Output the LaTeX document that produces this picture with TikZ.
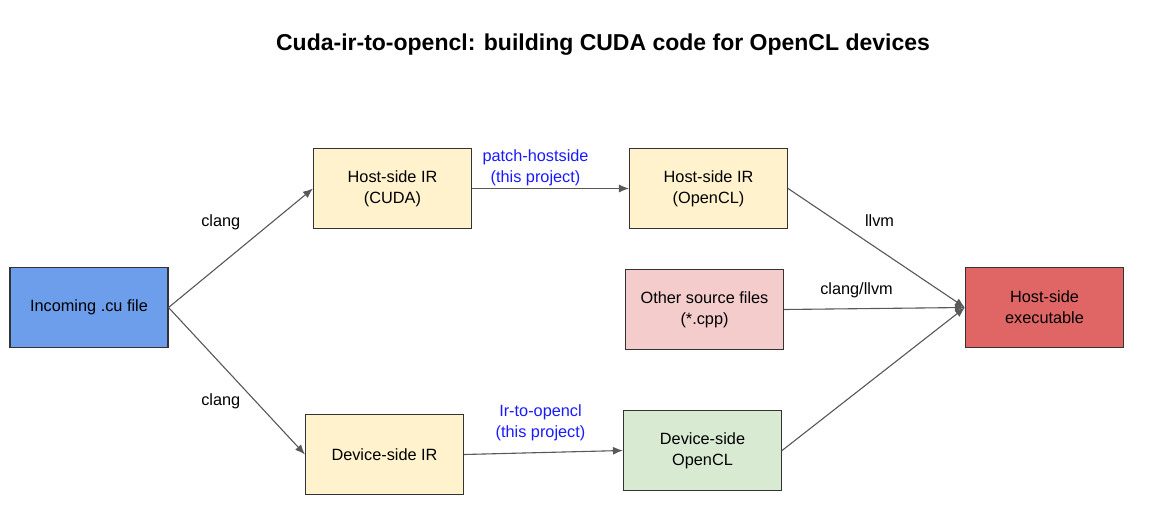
\documentclass[tikz,border=0pt]{standalone}
\usepackage{fontspec}
\setmainfont{Liberation Sans}
\usetikzlibrary{arrows.meta}

\definecolor{cuBlue}{HTML}{6D9EEB}
\definecolor{irYellow}{HTML}{FFF2CC}
\definecolor{exeRed}{HTML}{E06666}
\definecolor{srcPink}{HTML}{F4CCCC}
\definecolor{clGreen}{HTML}{D9EAD3}
\definecolor{flowGray}{HTML}{595959}
\definecolor{toolBlue}{HTML}{1A1AFF}

\begin{document}
\begin{tikzpicture}[x=1pt,y=-1pt,
    stage/.style={draw=black!80,line width=1.1pt,minimum width=158pt,minimum height=80pt,
      align=center,font=\fontsize{16.3}{21}\selectfont},
    flow/.style={-{Latex[length=10pt,width=8pt]},draw=flowGray,fill=flowGray,line width=1.1pt},
    tool/.style={font=\fontsize{16.3}{21}\selectfont,align=center,inner sep=1pt},
    ours/.style={tool,text=toolBlue}]

  \useasboundingbox (0,0) rectangle (1153,522);

  %Title
  \node(title) at (603,45) {\fontsize{23}{26}\selectfont\bfseries Cuda-ir-to-opencl: building CUDA code for OpenCL devices};

  % Stages
  \node[stage,fill=cuBlue]   (incoming) at (89,307.5)    {Incoming .cu file};
  \node[stage,fill=irYellow] (hostcuda) at (392.5,188.5) {Host-side IR\\(CUDA)};
  \node[stage,fill=irYellow] (hostcl)   at (708.5,188.5) {Host-side IR\\(OpenCL)};
  \node[stage,fill=srcPink]  (othersrc) at (704.5,309.5) {Other source files\\(*.cpp)};
  \node[stage,fill=exeRed]   (hostexe)  at (1044.5,307.5){Host-side\\executable};
  \node[stage,fill=irYellow] (devir)    at (384.5,454.5) {Device-side IR};
  \node[stage,fill=clGreen]  (devcl)    at (702.5,450.5) {Device-side\\OpenCL};

  % Flows
  \draw[flow] (incoming.east) -- node[tool,pos=0.5,xshift=-20pt,yshift=26pt] {clang} (hostcuda.west);
  \draw[flow] (incoming.east) -- node[tool,pos=0.5,xshift=-16pt,yshift=-20pt] {clang} (devir.west);
  \draw[flow] (hostcuda.east) -- node[ours,pos=0.5,xshift=-15pt,yshift=21pt] {patch-hostside\\(this project)} (hostcl.west);
  \draw[flow] (devir.east) -- node[ours,pos=0.5,xshift=-3pt,yshift=30pt] {Ir-to-opencl\\(this project)} (devcl.west);
  \draw[flow] (hostcl.east) -- node[tool,pos=0.5,xshift=3pt,yshift=27pt] {llvm} (hostexe.west);
  \draw[flow] (othersrc.east) -- node[tool,pos=0.5,xshift=-18pt,yshift=18pt] {clang/llvm} (hostexe.west);
  \draw[flow] (devcl.east) -- (hostexe.west);

\end{tikzpicture}
\end{document}
